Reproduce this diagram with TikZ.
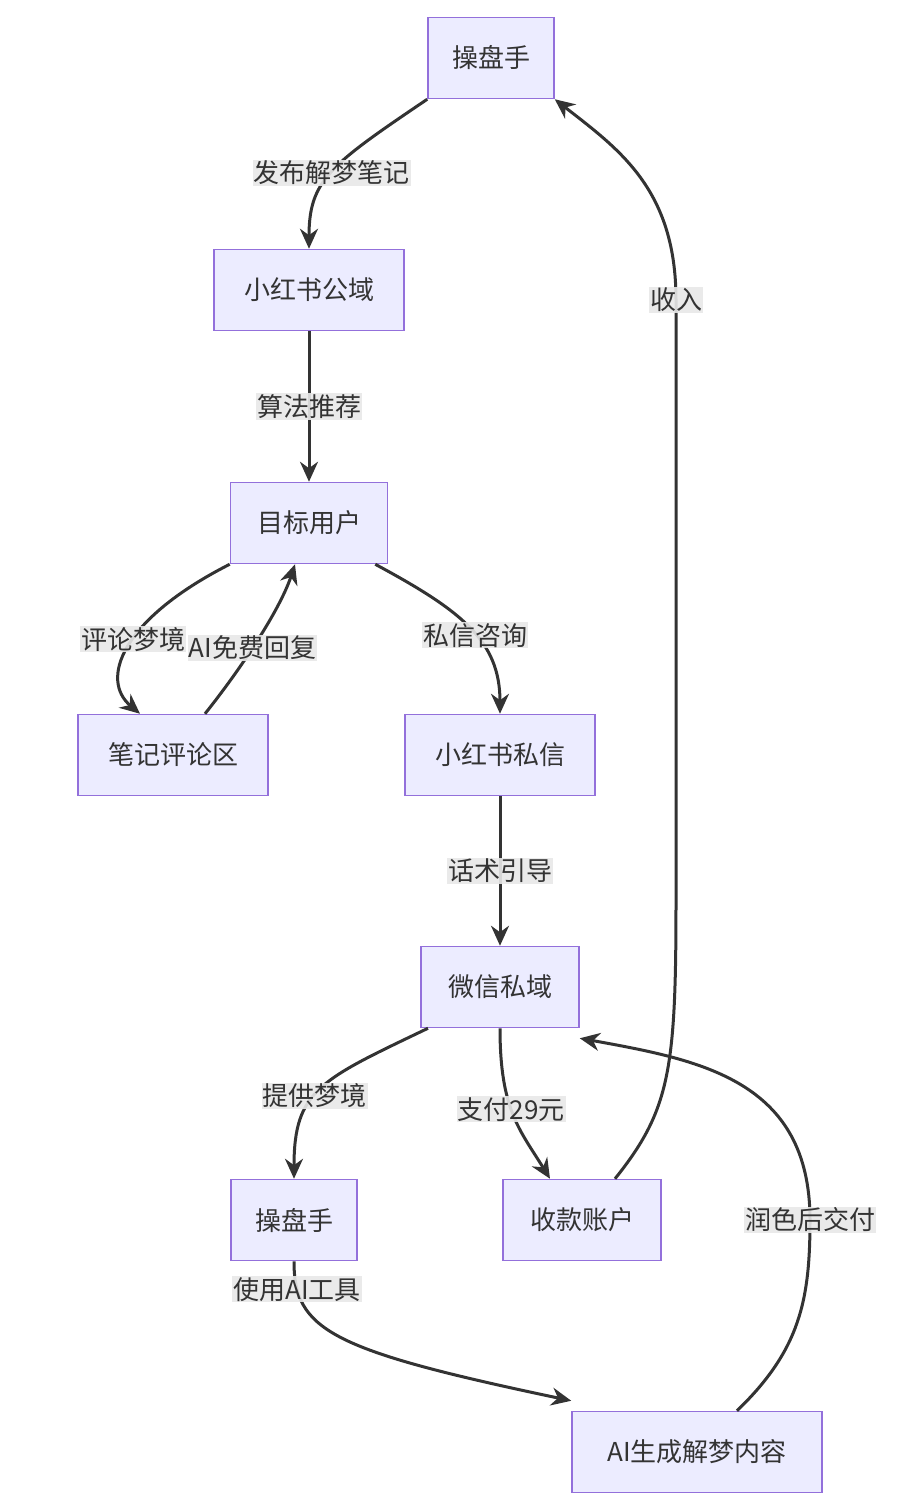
\documentclass[tikz,border=0pt]{standalone}
\usepackage{fontspec}
\setmainfont{Noto Sans CJK SC}
\usetikzlibrary{arrows.meta}
\definecolor{boxfill}{HTML}{ECECFF}
\definecolor{boxline}{HTML}{9370DB}
\definecolor{edge}{HTML}{333333}
\definecolor{lblbg}{HTML}{E8E8E8}
\tikzset{box/.style = {draw=boxline, fill=boxfill, line width=1.5pt, minimum height=81pt,
                       inner xsep=0pt, font=\fontsize{26}{30}\selectfont, text=edge},
         flow/.style = {draw=edge, line width=3pt, -{Stealth[length=20pt,width=18pt]}},
         lbl/.style = {fill=lblbg, fill opacity=0.9, text opacity=1, inner sep=1pt,
                       font=\fontsize{26}{30}\selectfont, text=edge}}
\begin{document}
\begin{tikzpicture}[x=1pt, y=-1pt]
  \useasboundingbox (0,0) rectangle (908,1510);
  \node [box, minimum width=126pt] (op1) at (491, 58) {操盘手};
  \node [box, minimum width=190pt] (xhs) at (309, 290) {小红书公域};
  \node [box, minimum width=157pt] (user) at (309, 523) {目标用户};
  \node [box, minimum width=190pt] (cmt) at (173, 755) {笔记评论区};
  \node [box, minimum width=190pt] (dm) at (500, 755) {小红书私信};
  \node [box, minimum width=158pt] (wx) at (500, 987) {微信私域};
  \node [box, minimum width=126pt] (op2) at (294, 1220) {操盘手};
  \node [box, minimum width=158pt] (pay) at (582, 1220) {收款账户};
  \node [box, minimum width=250pt] (ai) at (697, 1452) {AI生成解梦内容};

  \draw [flow] (op1.south west) .. controls (330,165) and (309,180) .. (xhs.north)
    node [lbl, pos=0.5] {发布解梦笔记};
  \draw [flow] (xhs) -- (user) node [lbl, midway] {算法推荐};
  \draw [flow] (user.south west) .. controls (120,620) and (100,680) .. ([xshift=-33pt]cmt.north)
    node [lbl, pos=0.45] {评论梦境};
  \draw [flow] ([xshift=32pt]cmt.north) .. controls (240,670) and (280,610) .. ([xshift=-14pt]user.south)
    node [lbl, pos=0.45] {AI免费回复};
  \draw [flow] ([xshift=-13pt]user.south east) .. controls (460,610) and (500,640) .. (dm.north)
    node [lbl, pos=0.55] {私信咨询};
  \draw [flow] (dm) -- (wx) node [lbl, midway] {话术引导};
  \draw [flow] ([xshift=-72pt]wx.south) .. controls (320,1080) and (294,1090) .. (op2.north)
    node [lbl, pos=0.55] {提供梦境};
  \draw [flow] (wx.south) .. controls (500,1110) and (520,1130) .. ([xshift=-32pt]pay.north)
    node [lbl, pos=0.45] {支付29元};
  \draw [flow] ([xshift=33pt]pay.north) .. controls (670,1110) and (676,1070) .. (676,900)
    -- (676,300) .. controls (676,190) and (620,150) .. (op1.south east)
    node [lbl, pos=0] at (676,638) {收入};
  \draw [flow] (op2.south) .. controls (294,1330) and (330,1350) .. ([yshift=10pt]ai.north west)
    node [lbl, pos=0.15] {使用AI工具};
  \draw [flow] ([xshift=40pt]ai.north) .. controls (800,1350) and (810,1300) .. (810,1220)
    .. controls (810,1080) and (700,1060) .. ([yshift=-10pt]wx.south east);
  \node [lbl] (lblai) at (810,1220) {润色后交付};
\end{tikzpicture}
\end{document}
